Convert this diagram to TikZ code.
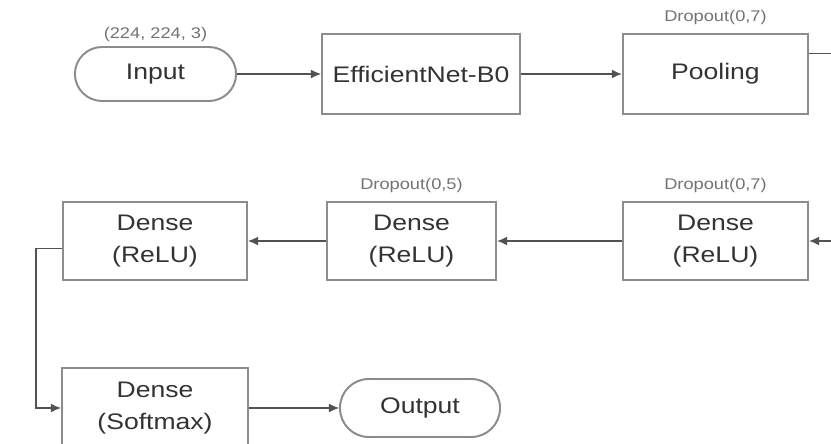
\documentclass[tikz,border=0pt]{standalone}
\usepackage{fontspec}
\setmainfont{Liberation Sans}[FakeStretch=1.18]
\usetikzlibrary{arrows.meta}
\tikzset{>={Latex[length=2.5mm,width=2.2mm]}}
\colorlet{boxcol}{black!45}
\colorlet{linecol}{black!68}
\colorlet{textcol}{black!80}
\colorlet{notecol}{black!55}
\tikzset{
  layer/.style={draw=boxcol,line width=1.4pt,fill=white,text=textcol,align=center,
                font=\fontsize{16}{23}\selectfont,inner sep=0pt},
  terminal/.style={layer,rounded corners=#1},
  terminal/.default=0.68cm,
  link/.style={->,linecol,line width=0.8pt},
  note/.style={notecol,font=\fontsize{11}{13}\selectfont,inner sep=0pt}}

\begin{document}
\begin{tikzpicture}[x=0.025cm,y=-0.025cm]
  \useasboundingbox (0,0) rectangle (831,444);
  \def\rowa{74}  % first row
  \def\rowb{241} % second row
  \def\rowc{408} % last row

  % FIRST ROW
  \node[terminal,minimum width=4.03cm,minimum height=1.35cm] (in) at (155.5,\rowa) {Input};
  \node[layer,minimum width=4.95cm,minimum height=1.98cm] (eff) at (421,\rowa) {EfficientNet-B0};
  \node[layer,minimum width=4.63cm,minimum height=1.98cm] (pool) at (715.5,\rowa) {Pooling};
  \node[note] at (155.5,35) {(224, 224, 3)};
  \node[note] at (715.5,18) {Dropout(0,7)};

  % SECOND ROW
  \node[layer,minimum width=4.63cm,minimum height=1.95cm] (dense3) at (715.5,\rowb) {Dense\\(ReLU)};
  \node[layer,minimum width=4.23cm,minimum height=1.95cm] (dense2) at (411.5,\rowb) {Dense\\(ReLU)};
  \node[layer,minimum width=4.6cm,minimum height=1.95cm] (dense1) at (155,\rowb) {Dense\\(ReLU)};
  \node[note] at (715.5,186) {Dropout(0,7)};
  \node[note] at (411.5,186) {Dropout(0,5)};

  % LAST ROW
  \node[layer,minimum width=4.65cm,minimum height=2cm] (soft) at (155,\rowc) {Dense\\(Softmax)};
  \node[terminal=0.72cm,minimum width=4cm,minimum height=1.45cm] (out) at (420,\rowc) {Output};

  % LINKS
  \draw[link] (in) -- (eff);
  \draw[link] (eff) -- (pool);
  \draw[link] ([yshift=0.51cm]pool.east) -- ++(40,0) |- (dense3.east);
  \draw[link] (dense3) -- (dense2);
  \draw[link] (dense2) -- (dense1);
  \draw[link] ([yshift=-0.18cm]dense1.west) -- ++(-26,0) |- (soft.west);
  \draw[link] (soft) -- (out);

\end{tikzpicture}
\end{document}
